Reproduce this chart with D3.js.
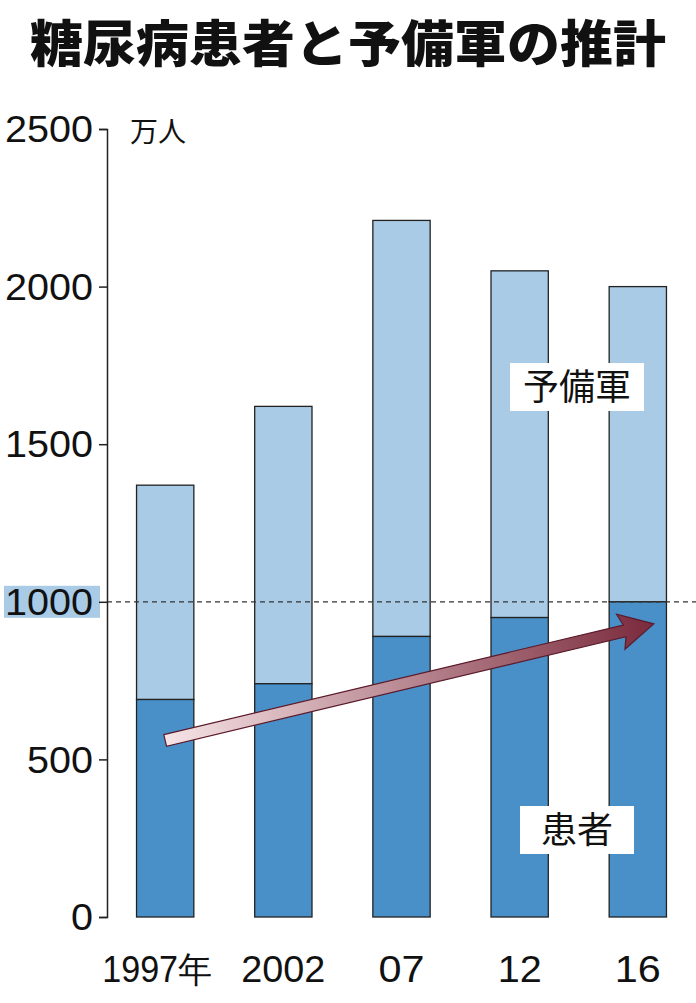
<!DOCTYPE html>
<html><head><meta charset="utf-8">
<script src="https://cdn.jsdelivr.net/npm/d3@7"></script>
<style>body{margin:0;background:#fff}</style></head>
<body><svg id="c" width="696" height="1003"></svg>
<script>
const years = ["1997年","2002","07","12","16"];
const patients = [690, 740, 890, 950, 1000];
const totals = [1370, 1620, 2210, 2050, 2000];
const ticks = [0,500,1000,1500,2000,2500];

const svg = d3.select("#c");
const y = d3.scaleLinear().domain([0,2500]).range([917,129]);
const x = d3.scaleBand().domain(years).range([107,696]).paddingInner(0.515).paddingOuter(0.25);
const nf = "'Liberation Sans',sans-serif";
const jf = "'Noto Sans CJK JP',sans-serif";

svg.append("text").attr("x",348).attr("y",62).attr("text-anchor","middle")
  .attr("font-family",jf).attr("font-weight",900).attr("font-size",50).attr("fill","#111")
  .attr("textLength",636).attr("lengthAdjust","spacingAndGlyphs")
  .text("糖尿病患者と予備軍の推計");

svg.append("rect").attr("x",4).attr("y",y(1000)-16).attr("width",96).attr("height",32).attr("fill","#a9cbe6");

const g = svg.append("g");
years.forEach((yr,i)=>{
  g.append("rect").attr("x",x(yr)).attr("width",x.bandwidth())
   .attr("y",y(totals[i])).attr("height",y(patients[i])-y(totals[i]))
   .attr("fill","#a9cbe6").attr("stroke","#222").attr("stroke-width",1.3);
  g.append("rect").attr("x",x(yr)).attr("width",x.bandwidth())
   .attr("y",y(patients[i])).attr("height",y(0)-y(patients[i]))
   .attr("fill","#4a90c8").attr("stroke","#222").attr("stroke-width",1.3);
});

svg.append("line").attr("x1",107).attr("x2",696).attr("y1",y(1000)).attr("y2",y(1000))
  .attr("stroke","#333").attr("stroke-width",1.2).attr("stroke-dasharray","5,4");

const ax = d3.axisLeft(y).tickValues(ticks).tickFormat(d3.format("d")).tickSize(8).tickPadding(6);
const axg = svg.append("g").attr("transform","translate(107,0)").call(ax);
axg.select(".domain").attr("stroke","#222").attr("stroke-width",1.5);
axg.selectAll(".tick line").attr("stroke","#222").attr("stroke-width",1.5);
axg.selectAll("text").attr("font-family",nf).attr("font-size",36).attr("fill","#111").attr("dy","0.35em")
  .attr("textLength",d=>String(d).length*22).attr("lengthAdjust","spacingAndGlyphs");

svg.append("text").attr("x",130).attr("y",142).attr("font-family",jf).attr("font-size",28).attr("fill","#111").text("万人");

const xw = {"1997年":110,"2002":84,"07":46,"12":44,"16":46};
years.forEach(yr=>{
  svg.append("text").attr("x",x(yr)+x.bandwidth()/2 + (yr==="1997年"?-8:0)).attr("y",982).attr("text-anchor","middle")
   .attr("font-family",nf).attr("font-size",36).attr("fill","#111")
   .attr("textLength",xw[yr]).attr("lengthAdjust","spacingAndGlyphs").text(yr);
});

const defs = svg.append("defs");
const gr = defs.append("linearGradient").attr("id","ag").attr("x1","0%").attr("x2","100%");
gr.append("stop").attr("offset","0%").attr("stop-color","#f6e4e6");
gr.append("stop").attr("offset","100%").attr("stop-color","#7a2a3c");
const x0 = x(years[0])+x.bandwidth()/2, y0=y(560), x1 = x(years[4])+x.bandwidth()/2+16, y1=y(930);
const ang = Math.atan2(y1-y0,x1-x0), len=Math.hypot(x1-x0,y1-y0);
const ag = svg.append("g").attr("transform",`translate(${x0},${y0}) rotate(${ang*180/Math.PI})`);
ag.append("path").attr("d",`M0,-6 L${len-30},-6 L${len-34},-18 L${len},0 L${len-34},18 L${len-30},6 L0,6 Z`)
  .attr("fill","url(#ag)").attr("stroke","#5a1a2a").attr("stroke-width",1.2);

svg.append("rect").attr("x",510).attr("y",363).attr("width",134).attr("height",48).attr("fill","#fff");
svg.append("text").attr("x",577).attr("y",400).attr("text-anchor","middle").attr("font-family",jf).attr("font-size",36).attr("fill","#111").text("予備軍");
svg.append("rect").attr("x",520).attr("y",806).attr("width",114).attr("height",48).attr("fill","#fff");
svg.append("text").attr("x",577).attr("y",843).attr("text-anchor","middle").attr("font-family",jf).attr("font-size",36).attr("fill","#111").text("患者");
</script></body></html>
